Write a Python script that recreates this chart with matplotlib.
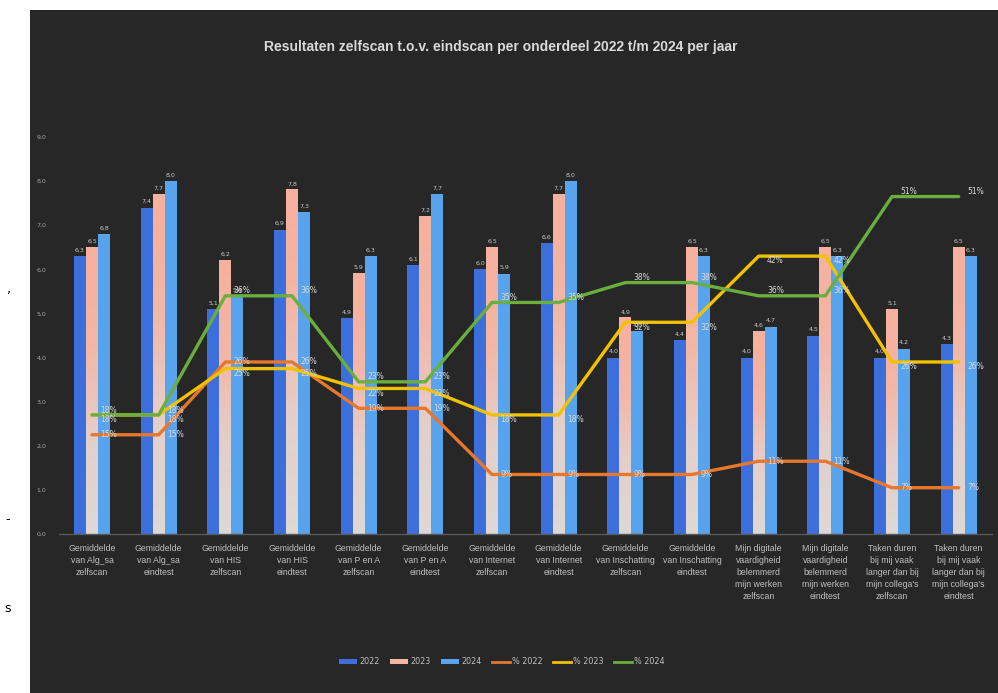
#!/usr/bin/env python3

from __future__ import annotations

import matplotlib

matplotlib.use("Agg")
import matplotlib.pyplot as plt
import numpy as np
from matplotlib.colors import LinearSegmentedColormap
from matplotlib.lines import Line2D
from matplotlib.patches import Patch, Rectangle

categories = [
    "Gemiddelde\nvan Alg_sa\nzelfscan",
    "Gemiddelde\nvan Alg_sa\neindtest",
    "Gemiddelde\nvan HIS\nzelfscan",
    "Gemiddelde\nvan HIS\neindtest",
    "Gemiddelde\nvan P en A\nzelfscan",
    "Gemiddelde\nvan P en A\neindtest",
    "Gemiddelde\nvan Internet\nzelfscan",
    "Gemiddelde\nvan Internet\neindtest",
    "Gemiddelde\nvan Inschatting\nzelfscan",
    "Gemiddelde\nvan Inschatting\neindtest",
    "Mijn digitale\nvaardigheid\nbelemmerd\nmijn werken\nzelfscan",
    "Mijn digitale\nvaardigheid\nbelemmerd\nmijn werken\neindtest",
    "Taken duren\nbij mij vaak\nlanger dan bij\nmijn collega's\nzelfscan",
    "Taken duren\nbij mij vaak\nlanger dan bij\nmijn collega's\neindtest",
]

scores_2022 = [6.3, 7.4, 5.1, 6.9, 4.9, 6.1, 6.0, 6.6, 4.0, 4.4, 4.0, 4.5, 4.0, 4.3]
scores_2023 = [6.5, 7.7, 6.2, 7.8, 5.9, 7.2, 6.5, 7.7, 4.9, 6.5, 4.6, 6.5, 5.1, 6.5]
scores_2024 = [6.8, 8.0, 5.4, 7.3, 6.3, 7.7, 5.9, 8.0, 4.6, 6.3, 4.7, 6.3, 4.2, 6.3]

pct_2022 = [15, 15, 26, 26, 19, 19, 9, 9, 9, 9, 11, 11, 7, 7]
pct_2023 = [18, 18, 25, 25, 22, 22, 18, 18, 32, 32, 42, 42, 26, 26]
pct_2024 = [18, 18, 36, 36, 23, 23, 35, 35, 38, 38, 36, 36, 51, 51]

y_ticks = [0, 1, 2, 3, 4, 5, 6, 7, 8, 9]

BG = "#272727"
TXT = "#BFBFBF"


def nl(v: float, fmt: str = "{:.1f}") -> str:
    return fmt.format(v).replace(".", ",")


def main() -> int:
    fig = plt.figure(figsize=(9.98, 6.93), dpi=100)
    fig.patch.set_facecolor("white")
    fig.patches.append(
        Rectangle((30 / 998, 0), 1 - 30 / 998, 683 / 693, transform=fig.transFigure,
                  facecolor=BG, edgecolor="none", zorder=-10)
    )
    # stray characters from the surrounding page
    fig.text(9 / 998, 1 - 290 / 693, ",", color="black", fontsize=9, ha="center", va="center")
    fig.text(8 / 998, 1 - 520 / 693, "-", color="black", fontsize=9, ha="center", va="center")
    fig.text(8 / 998, 1 - 608 / 693, "s", color="black", fontsize=9, ha="center", va="center")

    ax = fig.add_axes([0.0588, 0.2294, 0.9352, 0.5729])
    ax.set_facecolor("none")
    x = np.arange(len(categories))
    w = 0.18

    b22 = ax.bar(x - w, scores_2022, width=w, color="#3C6FDC", zorder=2)
    b23 = ax.bar(x, scores_2023, width=w, color="#F4B5A5", zorder=2)
    b24 = ax.bar(x + w, scores_2024, width=w, color="#58A3EE", zorder=2)

    # gradient fill on the 2023 bars (light at the bottom, pink at the top)
    cmap = LinearSegmentedColormap.from_list("pinkfade", ["#DDD8D6", "#E4CFCA", "#F3B6A6", "#F7B09E"])
    grad = np.linspace(0, 1, 256).reshape(-1, 1)
    for bar in b23:
        x0 = bar.get_x()
        h = bar.get_height()
        ax.imshow(grad, extent=(x0, x0 + bar.get_width(), 0, h), origin="lower",
                  cmap=cmap, aspect="auto", zorder=2.1, interpolation="bilinear")

    for bars in (b22, b23, b24):
        for bar in bars:
            ax.text(bar.get_x() + bar.get_width() / 2, bar.get_height() + 0.08, nl(bar.get_height()),
                    ha="center", va="bottom", fontsize=4.5, color="#C8C8C8", zorder=3)

    ax.set_xlim(-0.5, len(categories) - 0.5)
    ax.set_ylim(0, 9)
    ax.set_yticks(y_ticks)
    ax.set_yticklabels([nl(t) for t in y_ticks])
    ax.set_xticks(x)
    ax.set_xticklabels(categories, linespacing=1.45, fontsize=6.3, family=["Liberation Sans", "DejaVu Sans"])
    ax.tick_params(axis="x", length=0, pad=7, colors=TXT)
    ax.tick_params(axis="y", length=0, pad=9, labelsize=4.5, colors="#A6A6A6")
    for side in ("top", "right", "left"):
        ax.spines[side].set_visible(False)
    ax.spines["bottom"].set_color("#595959")
    ax.spines["bottom"].set_linewidth(1.0)

    ax2 = ax.twinx()
    ax2.set_ylim(0, 60)
    ax2.axis("off")
    line_colors = ["#E8772E", "#F2C200", "#6AAF3D"]
    label_shift = [0, -3.5, 3.5]
    for vals, col, dy in zip((pct_2022, pct_2023, pct_2024), line_colors, label_shift):
        ax2.plot(x, vals, color=col, lw=2.4, solid_joinstyle="round", solid_capstyle="round", zorder=4)
        for xi, v in zip(x, vals):
            ax2.annotate(f"{v}%", (xi, v), xytext=(6, dy), textcoords="offset points",
                         ha="left", va="center", fontsize=5.5, color="#D9D9D9", zorder=5)

    fig.text(0.502, 1 - 47 / 693, "Resultaten zelfscan t.o.v. eindscan per onderdeel 2022 t/m 2024 per jaar",
             ha="center", va="center", fontsize=10, fontweight="bold", color="#D9D9D9",
             family=["Liberation Sans Narrow", "Liberation Sans", "DejaVu Sans"])

    handles = [
        Patch(facecolor="#3C6FDC", label="2022"),
        Patch(facecolor="#F4B5A5", label="2023"),
        Patch(facecolor="#58A3EE", label="2024"),
        Line2D([], [], color=line_colors[0], lw=2, label="% 2022"),
        Line2D([], [], color=line_colors[1], lw=2, label="% 2023"),
        Line2D([], [], color=line_colors[2], lw=2, label="% 2024"),
    ]
    leg = fig.legend(handles=handles, loc="center", bbox_to_anchor=(0.503, 1 - 662 / 693), ncol=6,
                     frameon=False, fontsize=5.8, handlelength=2.2, handleheight=0.6,
                     handletextpad=0.3, columnspacing=1.3)
    for t in leg.get_texts():
        t.set_color(TXT)

    fig.savefig("out.png", dpi=100, facecolor=fig.get_facecolor())
    plt.close(fig)
    return 0


if __name__ == "__main__":
    raise SystemExit(main())
